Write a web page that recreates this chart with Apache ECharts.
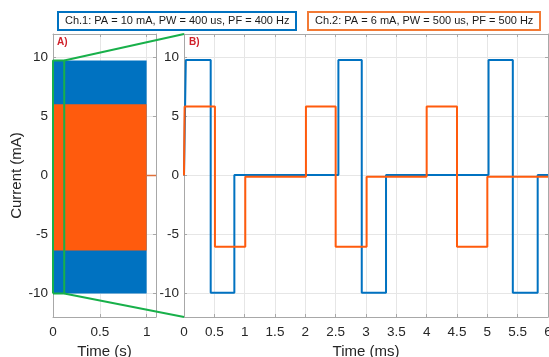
<!DOCTYPE html>
<html>
<head>
<meta charset="utf-8">
<script src="https://cdn.jsdelivr.net/npm/echarts@6/dist/echarts.min.js"></script>
<style>
html,body{margin:0;padding:0;background:#fff;}
#c{width:549px;height:357px;}
</style>
</head>
<body>
<div id="c"></div>
<script>
// ---- data ----
const legendTexts = ['Ch.1: PA = 10 mA, PW = 400 us, PF = 400 Hz', 'Ch.2: PA = 6 mA, PW = 500 us, PF = 500 Hz'];
const panelLabels = ['A)', 'B)'];
const yTicks = [-10, -5, 0, 5, 10];
const xTicksA = [0, 0.5, 1];
const xTicksB = [0, 0.5, 1, 1.5, 2, 2.5, 3, 3.5, 4, 4.5, 5, 5.5, 6];
// Panel A (seconds): envelopes of the dense pulse trains [t0, t1, yMin, yMax]
const ch1Band = [0, 1, -10, 9.75];
const ch2Band = [0, 1, -6.35, 6.05];
const idleTail = [[1, 0], [1.1, 0]];
const zoomBox = [[0, -10], [0, 9.75], [0.12, 9.75], [0.12, -10], [0, -10]];
// Panel B (milliseconds)
const ch1Wave = [[0, 0], [0.03, 0], [0.03, 9.8], [0.44, 9.8], [0.44, -9.95], [0.83, -9.95], [0.83, 0.05],
  [2.545, 0.05], [2.545, 9.8], [2.93, 9.8], [2.93, -9.95], [3.33, -9.95], [3.33, 0.05],
  [5.02, 0.05], [5.02, 9.8], [5.42, 9.8], [5.42, -9.95], [5.83, -9.95], [5.83, 0.05], [6, 0.05]];
const ch2Wave = [[0, 0], [0.01, 0], [0.01, 5.85], [0.51, 5.85], [0.51, -6.05], [1.01, -6.05], [1.01, -0.1],
  [2.01, -0.1], [2.01, 5.85], [2.5, 5.85], [2.5, -6.05], [3.01, -6.05], [3.01, -0.1],
  [4.0, -0.1], [4.0, 5.85], [4.5, 5.85], [4.5, -6.05], [5.0, -6.05], [5.0, -0.1], [6, -0.1]];

// ---- styles ----
const BLUE = '#0072C1';
const ORANGE = '#FF5B0D';
const GREEN = '#18B04A';
const AXIS = '#A8A8A8';
const GRIDC = '#E6E6E6';
const TXT = '#262626';
const FONT = '"Liberation Sans", Arial, sans-serif';

const chart = echarts.init(document.getElementById('c'), null, {renderer: 'canvas'});

function bottomX(grid, min, max, ticks, name) {
  return {
    type: 'value', gridIndex: grid, position: 'bottom', min: min, max: max,
    name: name, nameLocation: 'middle', nameGap: 24,
    nameTextStyle: {color: TXT, fontSize: 15, fontFamily: FONT},
    axisLine: {show: true, onZero: false, lineStyle: {color: AXIS, width: 1}},
    axisTick: {show: true, inside: true, length: 3, customValues: ticks, lineStyle: {color: AXIS}},
    axisLabel: {customValues: ticks, color: TXT, fontSize: 13.5, fontFamily: FONT, margin: 8},
    splitLine: {show: true, lineStyle: {color: GRIDC, width: 1}}
  };
}
function topX(grid, min, max, ticks) {
  return {
    type: 'value', gridIndex: grid, position: 'top', min: min, max: max,
    axisLine: {show: true, onZero: false, lineStyle: {color: AXIS, width: 1}},
    axisTick: {show: true, inside: true, length: 3, customValues: ticks, lineStyle: {color: AXIS}},
    axisLabel: {show: false, customValues: ticks},
    splitLine: {show: false}
  };
}
function leftY(grid, name) {
  return {
    type: 'value', gridIndex: grid, position: 'left', min: -12, max: 12,
    name: name, nameLocation: 'middle', nameGap: 28,
    nameTextStyle: {color: TXT, fontSize: 15, fontFamily: FONT},
    axisLine: {show: true, onZero: false, lineStyle: {color: AXIS, width: 1}},
    axisTick: {show: true, inside: true, length: 3, customValues: yTicks, lineStyle: {color: AXIS}},
    axisLabel: {customValues: yTicks, color: TXT, fontSize: 13.5, fontFamily: FONT, margin: 5},
    splitLine: {show: true, lineStyle: {color: GRIDC, width: 1}}
  };
}
function rightY(grid) {
  return {
    type: 'value', gridIndex: grid, position: 'right', min: -12, max: 12,
    axisLine: {show: true, onZero: false, lineStyle: {color: AXIS, width: 1}},
    axisTick: {show: true, inside: true, length: 3, customValues: yTicks, lineStyle: {color: AXIS}},
    axisLabel: {show: false, customValues: yTicks},
    splitLine: {show: false}
  };
}
function bandSeries(band, color, z) {
  return {
    type: 'custom', xAxisIndex: 0, yAxisIndex: 0, z: z, silent: true,
    encode: {x: [0, 1], y: [2, 3]},
    data: [band],
    renderItem: function (params, api) {
      const p0 = api.coord([api.value(0), api.value(3)]);
      const p1 = api.coord([api.value(1), api.value(2)]);
      return {type: 'rect', shape: {x: p0[0], y: p0[1], width: p1[0] - p0[0], height: p1[1] - p0[1]},
        style: {fill: color}};
    }
  };
}

const titleText = {fontSize: 11, fontWeight: 'normal', color: '#1a1a1a', fontFamily: FONT, lineHeight: 14};
const option = {
  animation: false,
  backgroundColor: '#ffffff',
  title: [
    {text: legendTexts[0], left: 58, top: 12, padding: [2, 7, 2, 7], borderColor: BLUE, borderWidth: 2,
      textStyle: titleText},
    {text: legendTexts[1], left: 308, top: 12, padding: [2, 7, 2, 7], borderColor: '#F27A35', borderWidth: 2,
      textStyle: titleText},
    {text: panelLabels[0], left: 57, top: 37, padding: 0,
      textStyle: {fontSize: 10, fontWeight: 'bold', color: '#D0202A', fontFamily: FONT}},
    {text: panelLabels[1], left: 189, top: 37, padding: 0,
      textStyle: {fontSize: 10, fontWeight: 'bold', color: '#D0202A', fontFamily: FONT}}
  ],
  grid: [
    {left: 53, top: 34, width: 103, height: 283, outerBoundsMode: 'none', containLabel: false},
    {left: 184, top: 34, width: 364, height: 283, outerBoundsMode: 'none', containLabel: false}
  ],
  xAxis: [
    bottomX(0, 0, 1.1, xTicksA, 'Time (s)'),
    topX(0, 0, 1.1, xTicksA),
    bottomX(1, 0, 6, xTicksB, 'Time (ms)'),
    topX(1, 0, 6, xTicksB)
  ],
  yAxis: [
    leftY(0, 'Current (mA)'),
    rightY(0),
    leftY(1, ''),
    rightY(1)
  ],
  series: [
    bandSeries(ch1Band, BLUE, 2),
    bandSeries(ch2Band, ORANGE, 3),
    {type: 'line', xAxisIndex: 0, yAxisIndex: 0, data: idleTail, symbol: 'none', z: 4,
      lineStyle: {color: '#E0703A', width: 1.5}},
    {type: 'line', xAxisIndex: 0, yAxisIndex: 0, data: zoomBox, symbol: 'none', z: 5,
      lineStyle: {color: GREEN, width: 2}},
    {type: 'line', name: 'Ch.1', xAxisIndex: 2, yAxisIndex: 2, data: ch1Wave, symbol: 'none', z: 3,
      lineStyle: {color: BLUE, width: 2}},
    {type: 'line', name: 'Ch.2', xAxisIndex: 2, yAxisIndex: 2, data: ch2Wave, symbol: 'none', z: 4,
      lineStyle: {color: ORANGE, width: 2}}
  ]
};
chart.setOption(option);

// green connector lines from the zoom box in A to the corners of B, via the axes' scales
const aTop = chart.convertToPixel({xAxisIndex: 0, yAxisIndex: 0}, [zoomBox[2][0], zoomBox[2][1]]);
const aBot = chart.convertToPixel({xAxisIndex: 0, yAxisIndex: 0}, [zoomBox[3][0], zoomBox[3][1]]);
const bTop = chart.convertToPixel({xAxisIndex: 2, yAxisIndex: 2}, [0, 12]);
const bBot = chart.convertToPixel({xAxisIndex: 2, yAxisIndex: 2}, [0, -12]);
chart.setOption({
  graphic: [
    {type: 'line', z: 10, shape: {x1: aTop[0], y1: aTop[1], x2: bTop[0], y2: bTop[1]},
      style: {stroke: GREEN, lineWidth: 2}},
    {type: 'line', z: 10, shape: {x1: aBot[0], y1: aBot[1], x2: bBot[0], y2: bBot[1]},
      style: {stroke: GREEN, lineWidth: 2}}
  ]
});
</script>
</body>
</html>
